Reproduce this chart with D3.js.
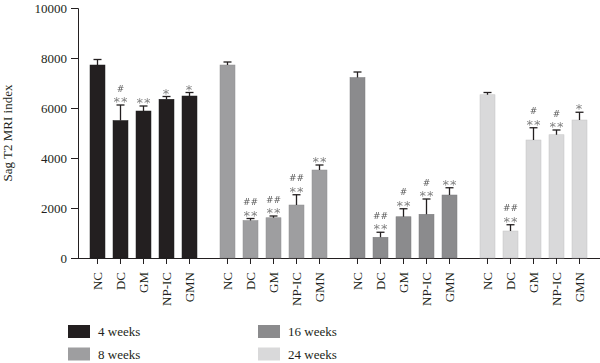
<!DOCTYPE html>
<html>
<head>
<meta charset="utf-8">
<script src="https://cdn.jsdelivr.net/npm/d3@7"></script>
<style>
  body { margin: 0; background: #fff; }
  svg text { font-family: "Liberation Serif", "DejaVu Serif", serif; fill: #231f20; }
  svg text.mark { font-family: "DejaVu Sans", sans-serif; }
  g.marks { filter: grayscale(100%); }
</style>
</head>
<body>
<div id="chart"></div>
<script>
// Data
const periods = ["4 weeks", "8 weeks", "16 weeks", "24 weeks"];
const groups = ["NC", "DC", "GM", "NP-IC", "GMN"];
const means = [
    [7720, 5500, 5880, 6350, 6480],
    [7720, 1500, 1610, 2120, 3520],
    [7220, 830, 1650, 1750, 2520],
    [6530, 1080, 4720, 4930, 5520]
];
const errors = [
    [220, 620, 200, 110, 140],
    [120, 80, 70, 410, 200],
    [220, 200, 320, 610, 290],
    [90, 250, 490, 190, 310]
];
const starMarks = [
    ["", "**", "**", "*", "*"],
    ["", "**", "**", "**", "**"],
    ["", "**", "**", "**", "**"],
    ["", "**", "**", "**", "*"]
];
const hashMarks = [
    ["", "#", "", "", ""],
    ["", "##", "##", "##", ""],
    ["", "##", "#", "#", ""],
    ["", "##", "#", "#", ""]
];
const colors = ["#231f20", "#9e9ea0", "#8b8b8d", "#d9d9da"];
const yTicks = [0, 2000, 4000, 6000, 8000, 10000];

const width = 600, height = 363;
const svg = d3.select("#chart").append("svg")
    .attr("width", width)
    .attr("height", height);

const x0 = d3.scaleBand().domain(periods).range([78.5, 598.5]);
const x1 = d3.scaleBand().domain(groups).range([0, x0.bandwidth()])
    .paddingInner(0.348).paddingOuter(0.5);
const y = d3.scaleLinear().domain([0, 10000]).range([258, 8]);

// y axis
const yAxis = svg.append("g")
    .attr("transform", "translate(78,0)")
    .call(d3.axisLeft(y).tickValues(yTicks).tickSize(7).tickPadding(4).tickFormat(d3.format("d")));
yAxis.select(".domain").attr("stroke", "#231f20");
yAxis.selectAll(".tick line").attr("stroke", "#231f20");
yAxis.selectAll("text").style("font-size", "13px");

svg.append("text")
    .attr("transform", "translate(12,133) rotate(-90)")
    .attr("text-anchor", "middle")
    .style("font-size", "13px")
    .text("Sag T2 MRI index");

// x axis line
svg.append("line")
    .attr("x1", 78).attr("x2", 600)
    .attr("y1", y(0) + 0.5).attr("y2", y(0) + 0.5)
    .attr("stroke", "#231f20");

const rows = [];
periods.forEach((p, i) => {
    groups.forEach((g, j) => {
        rows.push({ p, g, i, j, v: means[i][j], e: errors[i][j], s: starMarks[i][j], h: hashMarks[i][j] });
    });
});
const cx = d => x0(d.p) + x1(d.g) + x1.bandwidth() / 2;

// bars
svg.append("g").selectAll("rect")
    .data(rows)
    .enter().append("rect")
    .attr("x", d => x0(d.p) + x1(d.g))
    .attr("width", x1.bandwidth())
    .attr("y", d => y(d.v))
    .attr("height", d => y(0) - y(d.v))
    .attr("fill", d => colors[d.i])
    .attr("stroke", d => d3.color(colors[d.i]).darker(0.3))
    .attr("stroke-width", 0.5);

// error bars (upper only)
const eb = svg.append("g").attr("stroke", "#231f20").attr("stroke-width", 1.3);
eb.selectAll(".stem")
    .data(rows)
    .enter().append("line")
    .attr("x1", cx).attr("x2", cx)
    .attr("y1", d => y(d.v))
    .attr("y2", d => y(d.v + d.e));
eb.selectAll(".cap")
    .data(rows)
    .enter().append("line")
    .attr("x1", d => cx(d) - 4).attr("x2", d => cx(d) + 4)
    .attr("y1", d => y(d.v + d.e))
    .attr("y2", d => y(d.v + d.e));

// significance marks
svg.append("g").attr("class", "marks").selectAll("text")
    .data(rows.filter(d => d.s))
    .enter().append("text")
    .attr("class", "mark")
    .attr("x", d => cx(d) + (d.s.length > 1 ? 0.5 : 0))
    .attr("y", d => y(d.v + d.e) + 1)
    .attr("text-anchor", "middle")
    .style("font-size", "13px")
    .style("letter-spacing", "1px")
    .style("fill", "#808184")
    .text(d => d.s);
svg.append("g").attr("class", "marks").selectAll("text")
    .data(rows.filter(d => d.h))
    .enter().append("text")
    .attr("class", "mark")
    .attr("x", cx)
    .attr("y", d => y(d.v + d.e) - 13.5)
    .attr("text-anchor", "middle")
    .style("font-size", "9px")
    .style("fill", "#58595b")
    .text(d => d.h);

// x ticks and rotated labels
const xt = svg.append("g").selectAll("g")
    .data(rows)
    .enter().append("g")
    .attr("transform", d => `translate(${cx(d)},${y(0)})`);
xt.append("line")
    .attr("y1", 0).attr("y2", 6)
    .attr("stroke", "#231f20");
xt.append("text")
    .attr("transform", "translate(4.5,14) rotate(-90)")
    .attr("text-anchor", "end")
    .style("font-size", "13px")
    .text(d => d.g);

// legend
const legend = svg.append("g").selectAll("g")
    .data(periods)
    .enter().append("g")
    .attr("transform", (d, i) => `translate(${i < 2 ? 68 : 258},${325 + (i % 2) * 22.5})`);
legend.append("rect")
    .attr("width", 22)
    .attr("height", 13)
    .attr("fill", (d, i) => colors[i]);
legend.append("text")
    .attr("x", 30)
    .attr("y", 11)
    .style("font-size", "13px")
    .text(d => d);
</script>
</body>
</html>
